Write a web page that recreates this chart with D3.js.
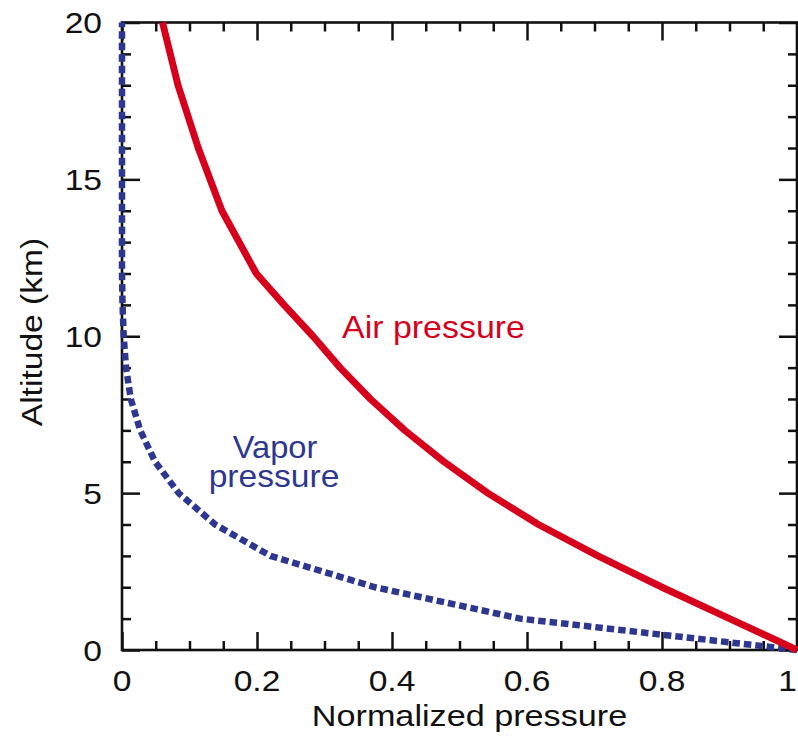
<!DOCTYPE html>
<html>
<head>
<meta charset="utf-8">
<script src="https://cdn.jsdelivr.net/npm/d3@7"></script>
<style>
  html, body { margin: 0; padding: 0; background: #fff; }
  svg { display: block; }
  text { font-family: "Liberation Sans", Arial, Helvetica, sans-serif; }
</style>
</head>
<body>
<svg id="chart" width="798" height="737"></svg>
<script>
// ---- data ----
const altitudes   = [0, 1, 2, 3, 4, 5, 6, 7, 8, 9, 10, 11, 12, 14, 16, 18, 20];
const airPressure = [1.0, 0.900, 0.800, 0.705, 0.617, 0.542, 0.477, 0.419, 0.368, 0.323, 0.283, 0.240, 0.199, 0.148, 0.113, 0.083, 0.060];
const vaporPressure = [1.0, 0.59, 0.375, 0.22, 0.138, 0.084, 0.049, 0.027, 0.013, 0.006, 0.0025, 0.0008, 0, 0, 0, 0, 0];
const xMajorTicks = [0, 0.2, 0.4, 0.6, 0.8, 1];
const xTickLabels = ["0", "0.2", "0.4", "0.6", "0.8", "1"];
const yMajorTicks = [0, 5, 10, 15, 20];
const yTickLabels = ["0", "5", "10", "15", "20"];
const xTitle = "Normalized pressure";
const yTitle = "Altitude (km)";
const airLabel = "Air pressure";
const vaporLabel = ["Vapor", "pressure"];

// ---- layout ----
const svg = d3.select("#chart");
const pL = 122, pR = 797, pT = 22.5, pB = 650;
const x = d3.scaleLinear().domain([0, 1]).range([pL, pR]);
const y = d3.scaleLinear().domain([0, 20]).range([pB, pT]);

const xMinor = d3.range(0, 1.0001, 0.05).filter(v => !xMajorTicks.some(m => Math.abs(m - v) < 1e-6));
const yMinor = d3.range(0, 20.001, 1).filter(v => !yMajorTicks.includes(v));

const major = 18, minor = 9;
function styleAxis(g) {
  g.select(".domain").remove();
  g.selectAll(".tick line").attr("stroke", "#111").attr("stroke-width", 2.5);
  g.selectAll(".tick text").remove();
}
// bottom
svg.append("g").attr("transform", `translate(0,${pB})`)
  .call(d3.axisBottom(x).tickValues(xMinor).tickSize(-minor)).call(styleAxis);
svg.append("g").attr("transform", `translate(0,${pB})`)
  .call(d3.axisBottom(x).tickValues(xMajorTicks).tickSize(-major)).call(styleAxis);
// top
svg.append("g").attr("transform", `translate(0,${pT})`)
  .call(d3.axisTop(x).tickValues(xMinor).tickSize(-minor)).call(styleAxis);
svg.append("g").attr("transform", `translate(0,${pT})`)
  .call(d3.axisTop(x).tickValues(xMajorTicks).tickSize(-major)).call(styleAxis);
// left
svg.append("g").attr("transform", `translate(${pL},0)`)
  .call(d3.axisLeft(y).tickValues(yMinor).tickSize(-minor)).call(styleAxis);
svg.append("g").attr("transform", `translate(${pL},0)`)
  .call(d3.axisLeft(y).tickValues(yMajorTicks).tickSize(-major)).call(styleAxis);
// right
svg.append("g").attr("transform", `translate(${pR},0)`)
  .call(d3.axisRight(y).tickValues(yMinor).tickSize(-minor)).call(styleAxis);
svg.append("g").attr("transform", `translate(${pR},0)`)
  .call(d3.axisRight(y).tickValues(yMajorTicks).tickSize(-major)).call(styleAxis);

// frame
svg.append("rect")
  .attr("x", pL).attr("y", pT)
  .attr("width", pR - pL).attr("height", pB - pT)
  .attr("fill", "none").attr("stroke", "#111").attr("stroke-width", 2.6);

// text helper
function label(px, py, txt, opts) {
  const o = Object.assign({size: 30, sx: 1.12, anchor: "middle", fill: "#111", rotate: 0}, opts || {});
  svg.append("text")
    .attr("transform", `translate(${px},${py}) rotate(${o.rotate}) scale(${o.sx},1)`)
    .attr("text-anchor", o.anchor)
    .attr("font-size", o.size)
    .attr("fill", o.fill)
    .text(txt);
}
xMajorTicks.forEach((v, i) => {
  const last = i === xMajorTicks.length - 1;
  label(last ? 797 : x(v), 691, xTickLabels[i], {anchor: last ? "end" : "middle"});
});
yMajorTicks.forEach((v, i) => label(102, y(v) + 10.5, yTickLabels[i], {anchor: "end"}));

// axis titles
label((pL + pR) / 2 + 10, 726, xTitle, {sx: 1.14});
label(42, 332, yTitle, {rotate: -90, sx: 1.12});

// lines
const line = d3.line().x(d => x(d[0])).y(d => y(d[1]));
const airData = altitudes.map((a, i) => [airPressure[i], a]);
const vaporData = altitudes.map((a, i) => [vaporPressure[i], a]);

svg.append("path").datum(vaporData)
  .attr("d", line).attr("fill", "none")
  .attr("stroke", "#2e3790").attr("stroke-width", 6.5)
  .attr("stroke-dasharray", "7.5,4");

svg.append("path").datum(airData)
  .attr("d", line).attr("fill", "none")
  .attr("stroke", "#d7001c").attr("stroke-width", 7)
  .attr("stroke-linejoin", "round");

// series labels
label(433.5, 338, airLabel, {size: 32, sx: 1.06, fill: "#d7001c"});
label(275, 458, vaporLabel[0], {size: 32, sx: 1.02, fill: "#2e3790"});
label(274, 487, vaporLabel[1], {size: 32, sx: 1.05, fill: "#2e3790"});
</script>
</body>
</html>
